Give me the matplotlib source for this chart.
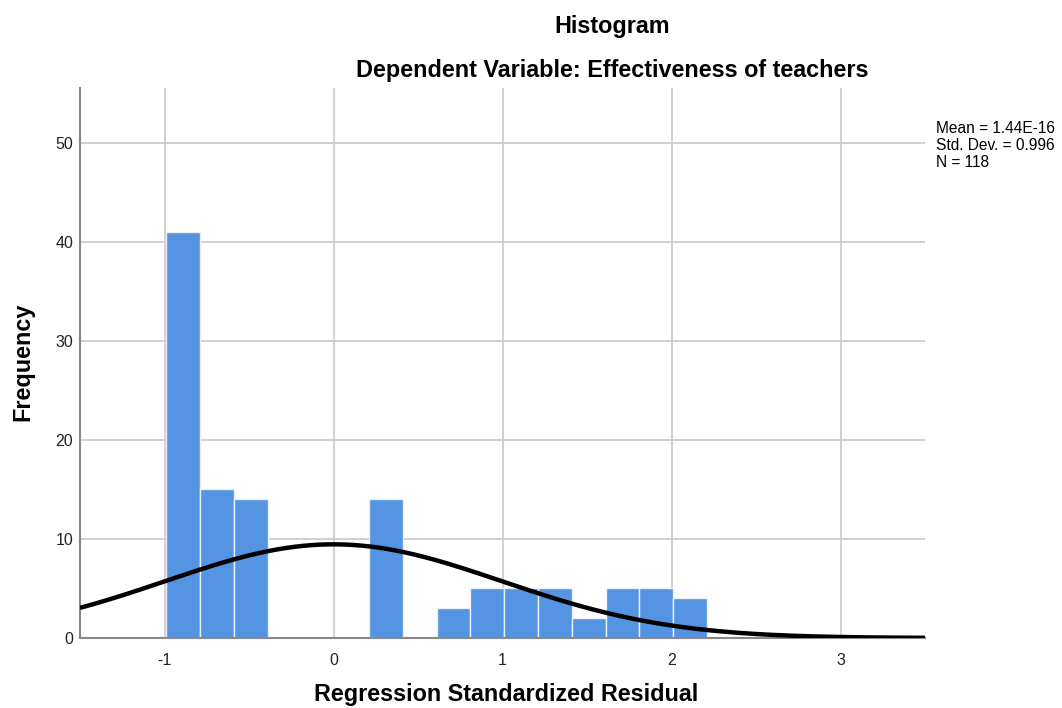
import numpy as np
import matplotlib
matplotlib.use("Agg")
import matplotlib.pyplot as plt

plt.rcParams['font.family'] = ['Liberation Sans', 'DejaVu Sans']

# Histogram of regression standardized residuals
bin_start = -0.99
bin_width = 0.2
counts = [41, 15, 14, 0, 0, 0, 14, 0, 3, 5, 5, 5, 2, 5, 5, 4]
mean = 1.44e-16
std_dev = 0.996
n_obs = 118

x_ticks = [-1, 0, 1, 2, 3]
y_ticks = [0, 10, 20, 30, 40, 50]

bar_color = '#5594e2'
grid_color = '#c8c8c8'

fig = plt.figure(figsize=(10.62, 7.08), dpi=100)
ax = fig.add_axes([80 / 1062, 1 - 638 / 708, (925 - 80) / 1062, (638 - 88) / 708])

edges = bin_start + bin_width * np.arange(len(counts) + 1)
ax.bar(edges[:-1], counts, width=bin_width, align='edge', color=bar_color,
       edgecolor='#e8f0fb', linewidth=1.0, zorder=2)

xs = np.linspace(-1.5, 3.5, 400)
pdf = n_obs * bin_width / (std_dev * np.sqrt(2 * np.pi)) * np.exp(-0.5 * ((xs - mean) / std_dev) ** 2)
ax.plot(xs, pdf, color='black', linewidth=3.2, zorder=3, solid_capstyle='butt')

ax.set_xlim(-1.5, 3.5)
ax.set_ylim(0, 55.5)
ax.set_xticks(x_ticks)
ax.set_yticks(y_ticks)
ax.set_xticklabels([str(t) for t in x_ticks])
ax.set_yticklabels([str(t) for t in y_ticks])
ax.grid(True, color=grid_color, linewidth=1.2, zorder=0)
ax.set_axisbelow(True)

for side in ('top', 'right'):
    ax.spines[side].set_visible(False)
for side in ('left', 'bottom'):
    ax.spines[side].set_color('#888888')
    ax.spines[side].set_linewidth(1.5)
ax.tick_params(axis='both', length=0, labelsize=11.5, colors='#222222')
ax.tick_params(axis='x', pad=11)
ax.tick_params(axis='y', pad=5)

fig.text(612 / 1062, 1 - 26 / 708, 'Histogram', ha='center', va='center',
         fontsize=16.8, fontweight='bold')
fig.text(612 / 1062, 1 - 70 / 708, 'Dependent Variable: Effectiveness of teachers',
         ha='center', va='center', fontsize=16.8, fontweight='bold')

fig.text(506 / 1062, 1 - 694 / 708, 'Regression Standardized Residual',
         ha='center', va='center', fontsize=16.8, fontweight='bold')
fig.text(23 / 1062, 1 - 362 / 708, 'Frequency', ha='center', va='center',
         rotation=90, fontsize=16.8, fontweight='bold')

stats = f'Mean = 1.44E-16\nStd. Dev. = {std_dev:.3f}\nN = {n_obs}'
fig.text(936 / 1062, 1 - 121 / 708, stats, ha='left', va='top', fontsize=11.2,
         linespacing=1.17)

fig.savefig('out.png', dpi=100, facecolor='white')
